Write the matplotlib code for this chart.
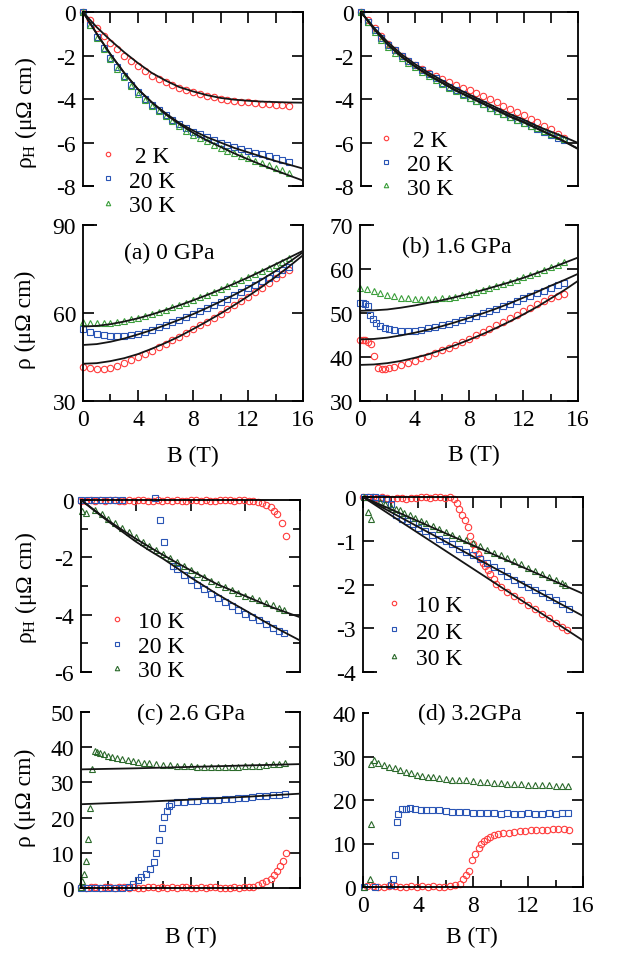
import numpy as np
import matplotlib
matplotlib.use('Agg')
import matplotlib.pyplot as plt
from matplotlib.patches import Rectangle
from matplotlib.ticker import MultipleLocator

plt.rcParams['font.family'] = ['Liberation Serif', 'DejaVu Serif']
plt.rcParams['mathtext.fontset'] = 'custom'
plt.rcParams['mathtext.rm'] = 'Liberation Serif'
plt.rcParams['mathtext.it'] = 'Liberation Serif:italic'
plt.rcParams['axes.unicode_minus'] = False
FS = 17

# ---------------- data ----------------
fit_B = [0, 1, 2, 3, 4, 5, 6, 7, 8, 9, 10, 11, 12, 13, 14, 15, 16]
half_B = [0.0, 0.5, 1.0, 1.5, 2.0, 2.5, 3.0, 3.5, 4.0, 4.5, 5.0, 5.5, 6.0, 6.5, 7.0, 7.5,
          8.0, 8.5, 9.0, 9.5, 10.0, 10.5, 11.0, 11.5, 12.0, 12.5, 13.0, 13.5, 14.0, 14.5, 15.0]

# (a) 0 GPa, Hall
a_hall_2K = [0, -0.38, -0.75, -1.1, -1.42, -1.72, -2.0, -2.26, -2.5, -2.72, -2.92, -3.08, -3.22, -3.36,
             -3.48, -3.6, -3.7, -3.78, -3.86, -3.93, -4.0, -4.05, -4.1, -4.13, -4.16, -4.19, -4.21,
             -4.24, -4.26, -4.28, -4.3]
a_hall_20K = [0, -0.6, -1.15, -1.65, -2.1, -2.55, -2.95, -3.35, -3.7, -4.0, -4.28, -4.52, -4.75, -4.96,
              -5.15, -5.33, -5.5, -5.63, -5.76, -5.88, -6.0, -6.1, -6.2, -6.29, -6.38, -6.47, -6.55,
              -6.64, -6.72, -6.8, -6.88]
a_hall_30K = [0, -0.62, -1.2, -1.7, -2.15, -2.6, -3.0, -3.4, -3.75, -4.05, -4.32, -4.57, -4.8, -5.03,
              -5.25, -5.45, -5.65, -5.8, -5.95, -6.1, -6.25, -6.38, -6.5, -6.62, -6.73, -6.84, -6.95,
              -7.05, -7.15, -7.27, -7.4]
a_hall_fit_2K = [0, -0.7, -1.3, -1.85, -2.35, -2.8, -3.15, -3.45, -3.65, -3.82, -3.95, -4.03, -4.08,
                 -4.12, -4.14, -4.16, -4.17]
a_hall_fit_20K = [0, -1.0, -1.95, -2.8, -3.55, -4.15, -4.65, -5.1, -5.45, -5.75, -6.0, -6.25, -6.45,
                  -6.65, -6.85, -7.02, -7.2]
a_hall_fit_30K = [0, -1.0, -1.95, -2.8, -3.55, -4.15, -4.7, -5.15, -5.55, -5.9, -6.2, -6.5, -6.77,
                  -7.03, -7.28, -7.52, -7.75]

# (a) 0 GPa, resistivity
a_rho_2K = [41.5, 41.2, 40.9, 40.9, 41.4, 42.1, 43.0, 43.9, 44.9, 46.0, 47.2, 48.4, 49.5, 50.7, 51.9,
            53.2, 54.5, 55.8, 57.1, 58.4, 59.8, 61.2, 62.6, 64.1, 65.6, 67.1, 68.6, 70.2, 71.8, 73.3, 74.6]
a_rho_20K = [54.5, 53.6, 53.0, 52.6, 52.3, 52.2, 52.3, 52.6, 53.0, 53.6, 54.3, 55.1, 55.9, 56.8, 57.7,
             58.6, 59.6, 60.6, 61.6, 62.7, 63.8, 64.9, 66.0, 67.2, 68.4, 69.6, 70.8, 72.0, 73.3, 74.5, 75.6]
a_rho_30K = [56.8, 56.6, 56.5, 56.5, 56.7, 57.0, 57.4, 57.9, 58.4, 59.0, 59.7, 60.4, 61.1, 61.9, 62.7,
             63.5, 64.4, 65.3, 66.2, 67.1, 68.1, 69.1, 70.1, 71.1, 72.2, 73.2, 74.3, 75.4, 76.5, 77.5, 78.6]
a_rho_fit_2K = [42.7, 42.9, 43.6, 44.6, 46.0, 47.8, 49.8, 52.0, 54.5, 57.1, 59.8, 62.7, 65.7, 68.9,
                72.3, 75.9, 79.7]
a_rho_fit_20K = [49.1, 49.4, 50.2, 51.3, 52.7, 54.2, 55.9, 57.7, 59.6, 61.7, 63.9, 66.2, 68.7, 71.4,
                 74.3, 77.4, 80.7]
a_rho_fit_30K = [55.4, 55.6, 56.2, 57.1, 58.2, 59.5, 61.0, 62.6, 64.3, 66.1, 68.0, 70.0, 72.1, 74.3,
                 76.6, 78.9, 81.2]

# (b) 1.6 GPa, Hall
b_hall_2K = [0, -0.38, -0.75, -1.1, -1.45, -1.73, -2.0, -2.23, -2.45, -2.63, -2.8, -2.95, -3.1, -3.22,
             -3.35, -3.48, -3.6, -3.72, -3.85, -4.0, -4.15, -4.3, -4.45, -4.6, -4.75, -4.9, -5.05,
             -5.22, -5.4, -5.6, -5.8]
b_hall_20K = [0, -0.45, -0.85, -1.2, -1.5, -1.77, -2.0, -2.23, -2.45, -2.65, -2.85, -3.05, -3.25, -3.43,
              -3.6, -3.78, -3.95, -4.1, -4.25, -4.4, -4.55, -4.7, -4.85, -4.98, -5.1, -5.25, -5.4,
              -5.52, -5.65, -5.78, -5.9]
b_hall_30K = [0, -0.48, -0.9, -1.27, -1.6, -1.87, -2.1, -2.33, -2.55, -2.75, -2.95, -3.13, -3.3, -3.48,
              -3.65, -3.8, -3.95, -4.1, -4.25, -4.4, -4.55, -4.7, -4.85, -4.98, -5.1, -5.22, -5.35,
              -5.47, -5.6, -5.72, -5.85]
b_hall_fit_2K = [0, -0.75, -1.4, -1.95, -2.4, -2.8, -3.15, -3.5, -3.8, -4.1, -4.4, -4.7, -4.95, -5.25,
                 -5.5, -5.75, -6.02]
b_hall_fit_20K = [0, -0.8, -1.5, -2.05, -2.5, -2.9, -3.25, -3.6, -3.9, -4.2, -4.5, -4.8, -5.05, -5.35,
                  -5.65, -5.95, -6.28]
b_hall_fit_30K = [0, -0.82, -1.52, -2.07, -2.52, -2.92, -3.27, -3.62, -3.92, -4.22, -4.52, -4.82,
                  -5.08, -5.37, -5.66, -5.96, -6.3]

# (b) 1.6 GPa, resistivity
b_rho_2K_B = [0.0, 0.2, 0.4, 0.6, 0.8, 1.05, 1.35, 1.6, 1.85, 2.1, 2.5, 3.0, 3.5, 4.0, 4.5, 5.0, 5.5,
              6.0, 6.5, 7.0, 7.5, 8.0, 8.5, 9.0, 9.5, 10.0, 10.5, 11.0, 11.5, 12.0, 12.5, 13.0, 13.5,
              14.0, 14.5, 15.0]
b_rho_2K = [43.9, 43.9, 43.8, 43.5, 42.9, 40.2, 37.4, 37.3, 37.3, 37.5, 37.8, 38.2, 38.7, 39.2, 39.7,
            40.3, 40.9, 41.5, 42.1, 42.8, 43.5, 44.2, 44.9, 45.7, 46.4, 47.2, 48.0, 48.8, 49.6, 50.4,
            51.2, 52.0, 52.7, 53.4, 53.9, 54.3]
b_rho_20K_B = [0.0, 0.2, 0.4, 0.6, 0.75, 0.95, 1.2, 1.5, 1.8, 2.1, 2.5, 3.0, 3.5, 4.0, 4.5, 5.0, 5.5,
               6.0, 6.5, 7.0, 7.5, 8.0, 8.5, 9.0, 9.5, 10.0, 10.5, 11.0, 11.5, 12.0, 12.5, 13.0, 13.5,
               14.0, 14.5, 15.0]
b_rho_20K = [52.2, 52.3, 52.1, 51.5, 49.6, 48.6, 47.7, 47.0, 46.6, 46.3, 46.1, 45.9, 45.9, 46.0, 46.2,
             46.5, 46.8, 47.2, 47.6, 48.0, 48.5, 48.9, 49.4, 49.9, 50.4, 51.0, 51.5, 52.1, 52.7, 53.3,
             53.9, 54.5, 55.1, 55.7, 56.3, 56.8]
b_rho_30K = [55.7, 55.5, 55.1, 54.6, 54.2, 53.8, 53.5, 53.3, 53.2, 53.1, 53.1, 53.2, 53.3, 53.5, 53.7,
             54.0, 54.4, 54.8, 55.2, 55.6, 56.1, 56.6, 57.1, 57.6, 58.1, 58.6, 59.2, 59.8, 60.4, 61.0, 61.6]
b_rho_fit_2K = [38.2, 38.3, 38.6, 39.1, 39.8, 40.6, 41.6, 42.7, 43.9, 45.2, 46.6, 48.1, 49.7, 51.4,
                53.3, 55.2, 57.3]
b_rho_fit_20K = [44.0, 44.1, 44.4, 44.9, 45.5, 46.2, 47.0, 47.9, 48.9, 49.9, 51.0, 52.2, 53.5, 54.8,
                 56.2, 57.5, 58.9]
b_rho_fit_30K = [50.5, 50.6, 50.8, 51.2, 51.7, 52.3, 52.9, 53.6, 54.4, 55.2, 56.1, 57.0, 58.0, 59.1,
                 60.2, 61.4, 62.6]

# (c) 2.6 GPa, Hall
c_hall_10K_B = [0.0, 0.35, 0.7, 1.05, 1.4, 1.75, 2.1, 2.45, 2.8, 3.15, 3.5, 3.85, 4.2, 4.55, 4.9, 5.25,
                5.6, 5.95, 6.3, 6.65, 7.0, 7.35, 7.7, 8.05, 8.4, 8.75, 9.1, 9.45, 9.8, 10.15, 10.5,
                10.85, 11.2, 11.55, 11.9, 12.25, 12.6, 12.95, 13.25, 13.55, 13.85, 14.1, 14.35, 14.65,
                14.95]
c_hall_10K = [-0.03, -0.02, 0.0, -0.02, -0.01, -0.03, -0.01, 0.0, -0.02, -0.03, -0.01, -0.02, 0.0,
              -0.01, -0.02, -0.03, -0.01, -0.02, 0.0, -0.02, -0.01, -0.03, -0.02, -0.01, 0.0, -0.02,
              -0.01, -0.02, -0.03, -0.01, 0.0, -0.01, -0.02, -0.01, 0.0, -0.02, -0.03, -0.06, -0.1,
              -0.16, -0.26, -0.38, -0.48, -0.79, -1.27]
c_hall_20K_B = [0.0, 0.5, 1.0, 1.5, 2.0, 2.5, 3.0, 5.4, 5.75, 6.1, 6.75, 7.0, 7.5, 8.0, 8.5, 9.0, 9.5,
                10.0, 10.5, 11.0, 11.5, 12.0, 12.5, 13.0, 13.5, 14.0, 14.5, 14.8]
c_hall_20K = [0.0, 0.0, 0.01, 0.0, 0.01, 0.0, 0.0, 0.08, -0.7, -1.45, -2.3, -2.42, -2.62, -2.8, -2.97,
              -3.12, -3.27, -3.42, -3.56, -3.7, -3.83, -3.96, -4.08, -4.2, -4.32, -4.45, -4.57, -4.63]
c_hall_30K_B = [0.05, 0.4, 1.0, 1.5, 2.0, 2.5, 3.0, 3.5, 4.0, 4.5, 5.0, 5.5, 6.0, 6.5, 7.0, 7.5, 8.0,
                8.5, 9.0, 9.5, 10.0, 10.5, 11.0, 11.5, 12.0, 12.5, 13.0, 13.5, 14.0, 14.5, 14.8]
c_hall_30K = [-0.38, -0.44, -0.35, -0.5, -0.66, -0.8, -0.97, -1.13, -1.28, -1.45, -1.6, -1.76, -1.9,
              -2.03, -2.17, -2.31, -2.45, -2.58, -2.7, -2.82, -2.94, -3.05, -3.14, -3.24, -3.34, -3.42,
              -3.5, -3.6, -3.68, -3.77, -3.82]
c_hall_fit_20K = [0, -0.38, -0.75, -1.1, -1.45, -1.76, -2.05, -2.37, -2.7, -3.0, -3.3, -3.58, -3.85,
                  -4.13, -4.4, -4.65, -4.9]
c_hall_fit_30K = [0, -0.36, -0.72, -1.04, -1.35, -1.64, -1.92, -2.19, -2.45, -2.7, -2.95, -3.15,
                  -3.35, -3.55, -3.75, -3.92, -4.09]

# (c) 2.6 GPa, resistivity
c_rho_10K_B = [0.0, 0.35, 0.7, 1.05, 1.4, 1.75, 2.1, 2.45, 2.8, 3.15, 3.5, 3.85, 4.2, 4.55, 4.9, 5.25,
               5.6, 5.95, 6.3, 6.65, 7.0, 7.35, 7.7, 8.05, 8.4, 8.75, 9.1, 9.45, 9.8, 10.15, 10.5,
               10.85, 11.2, 11.55, 11.9, 12.25, 12.6, 12.95, 13.25, 13.55, 13.85, 14.1, 14.35, 14.55,
               14.75, 14.95]
c_rho_10K = [0.2, 0.1, 0.3, 0.2, 0.1, 0.3, 0.2, 0.0, 0.2, 0.3, 0.1, 0.2, 0.0, 0.1, 0.2, 0.3, 0.1, 0.2,
             0.0, 0.2, 0.1, 0.3, 0.2, 0.1, 0.0, 0.2, 0.1, 0.2, 0.3, 0.1, 0.0, 0.1, 0.2, 0.1, 0.2, 0.3,
             0.4, 0.8, 1.3, 1.9, 2.6, 3.6, 4.9, 6.3, 7.8, 9.9]
c_rho_20K_B = [0.0, 0.5, 1.0, 1.5, 2.0, 2.5, 3.0, 3.5, 3.8, 4.2, 4.4, 4.75, 5.05, 5.3, 5.5, 5.7, 5.9,
               6.1, 6.25, 6.4, 6.6, 7.0, 7.5, 8.0, 8.5, 9.0, 9.5, 10.0, 10.5, 11.0, 11.5, 12.0, 12.5,
               13.0, 13.5, 14.0, 14.5, 14.9]
c_rho_20K = [0.1, 0.0, 0.1, 0.0, 0.1, 0.0, 0.1, 0.3, 1.2, 2.2, 3.1, 4.1, 5.3, 7.4, 10.0, 13.5, 17.0,
             20.1, 22.0, 23.2, 23.9, 24.3, 24.4, 24.6, 24.7, 24.9, 25.0, 25.1, 25.3, 25.4, 25.6, 25.7,
             25.9, 26.0, 26.2, 26.3, 26.5, 26.6]
c_rho_30K_B = [0.0, 0.1, 0.2, 0.35, 0.5, 0.65, 0.8, 1.0, 1.2, 1.4, 1.7, 2.0, 2.3, 2.6, 3.0, 3.4, 3.8,
               4.2, 4.6, 5.0, 5.5, 6.0, 6.5, 7.0, 7.5, 8.0, 8.5, 9.0, 9.5, 10.0, 10.5, 11.0, 11.5, 12.0,
               12.5, 13.0, 13.5, 14.0, 14.5, 14.9]
c_rho_30K = [0.3, 1.9, 4.1, 7.6, 14.0, 22.8, 33.8, 39.0, 38.7, 38.4, 38.0, 37.6, 37.2, 36.9, 36.6,
             36.3, 36.0, 35.8, 35.6, 35.4, 35.2, 35.0, 34.9, 34.8, 34.7, 34.6, 34.5, 34.5, 34.4, 34.4,
             34.4, 34.5, 34.5, 34.6, 34.7, 34.8, 34.9, 35.1, 35.3, 35.4]
c_rho_fit_B = [0, 4, 8, 12, 16]
c_rho_fit_20K = [23.8, 24.4, 25.1, 25.9, 26.8]
c_rho_fit_30K = [33.7, 34.0, 34.4, 34.8, 35.2]

# (d) 3.2 GPa, Hall
d_hall_10K_B = [0.0, 0.35, 0.7, 1.05, 1.4, 1.75, 2.1, 2.45, 2.8, 3.15, 3.5, 3.85, 4.2, 4.55, 4.9, 5.25,
                5.6, 5.95, 6.3, 6.6, 6.8, 7.0, 7.2, 7.4, 7.6, 7.8, 8.0, 8.15, 8.35, 8.5, 8.7, 8.9, 9.1,
                9.25, 9.5, 9.7, 10.0, 10.5, 11.0, 11.5, 12.0, 12.5, 13.0, 13.5, 14.0, 14.5, 14.85]
d_hall_10K = [0.0, 0.0, -0.01, -0.03, -0.01, -0.02, -0.04, -0.02, -0.03, -0.05, -0.02, -0.03, -0.01,
              0.0, -0.02, -0.01, 0.0, -0.02, -0.01, -0.04, -0.13, -0.27, -0.4, -0.53, -0.68, -0.9,
              -1.08, -1.2, -1.3, -1.4, -1.5, -1.58, -1.67, -1.75, -1.88, -1.98, -2.05, -2.16, -2.26,
              -2.36, -2.46, -2.57, -2.67, -2.77, -2.87, -2.97, -3.04]
d_hall_20K_B = [0.1, 0.5, 0.9, 1.3, 1.7, 2.05, 2.4, 2.8, 3.2, 3.6, 4.0, 4.5, 5.0, 5.5, 6.0, 6.5, 7.0,
                7.5, 8.0, 8.5, 9.0, 9.5, 10.0, 10.5, 11.0, 11.5, 12.0, 12.5, 13.0, 13.5, 14.0, 14.5, 15.0]
d_hall_20K = [0.0, 0.0, 0.0, -0.02, -0.04, -0.15, -0.42, -0.5, -0.55, -0.62, -0.7, -0.78, -0.87, -0.95,
              -1.0, -1.08, -1.18, -1.25, -1.32, -1.42, -1.5, -1.6, -1.7, -1.8, -1.9, -1.98, -2.05,
              -2.12, -2.2, -2.28, -2.36, -2.45, -2.55]
d_hall_30K_B = [0.05, 0.35, 0.6, 1.2, 1.6, 2.0, 2.4, 2.7, 3.0, 3.4, 3.8, 4.2, 4.6, 5.1, 5.5, 6.0, 6.5,
                7.0, 7.5, 8.0, 8.5, 9.0, 9.5, 10.0, 10.5, 11.0, 11.5, 12.0, 12.5, 13.0, 13.5, 14.0,
                14.5, 14.7]
d_hall_30K = [0.0, -0.34, -0.5, -0.11, -0.17, -0.22, -0.28, -0.3, -0.36, -0.42, -0.48, -0.55, -0.6,
              -0.66, -0.72, -0.79, -0.86, -0.93, -0.99, -1.06, -1.13, -1.2, -1.27, -1.33, -1.4, -1.47,
              -1.54, -1.62, -1.69, -1.76, -1.83, -1.9, -1.97, -2.02]
d_hall_fit_B = [0, 16]
d_hall_fit_10K = [0, -3.28]
d_hall_fit_20K = [0, -2.72]
d_hall_fit_30K = [0, -2.21]

# (d) 3.2 GPa, resistivity
d_rho_10K_B = [0.3, 0.7, 1.1, 1.5, 1.9, 2.3, 2.7, 3.1, 3.5, 3.9, 4.3, 4.7, 5.1, 5.5, 5.9, 6.3, 6.7,
               7.05, 7.3, 7.5, 7.7, 7.9, 8.15, 8.4, 8.6, 8.8, 9.0, 9.25, 9.5, 9.8, 10.2, 10.6, 11.0,
               11.4, 11.8, 12.2, 12.6, 13.0, 13.4, 13.8, 14.2, 14.6, 15.0]
d_rho_10K = [0.3, 0.2, 0.0, 0.1, 0.3, 0.2, 0.1, 0.0, 0.2, 0.1, 0.3, 0.0, 0.2, 0.1, 0.0, 0.2, 0.4, 0.8,
             1.9, 2.7, 3.6, 6.1, 7.6, 9.0, 9.9, 10.5, 11.1, 11.5, 11.9, 12.1, 12.3, 12.5, 12.7, 12.8,
             12.9, 13.0, 13.1, 13.1, 13.2, 13.3, 13.3, 13.3, 13.2]
d_rho_20K_B = [0.1, 0.85, 2.05, 2.2, 2.35, 2.45, 2.55, 2.8, 3.1, 3.4, 3.8, 4.2, 4.6, 5.0, 5.5, 6.0, 6.5,
               7.0, 7.5, 8.0, 8.5, 9.0, 9.5, 10.0, 10.5, 11.0, 11.5, 12.0, 12.5, 13.0, 13.5, 14.0,
               14.5, 14.9]
d_rho_20K = [0.0, 0.0, 0.5, 1.9, 7.4, 14.9, 16.8, 17.9, 18.0, 18.1, 17.9, 17.8, 17.8, 17.7, 17.6, 17.5,
             17.3, 17.2, 17.2, 17.1, 17.0, 16.9, 16.9, 16.8, 16.9, 16.8, 16.8, 16.9, 16.8, 16.8, 16.9,
             16.8, 16.9, 17.0]
d_rho_30K_B = [0.05, 0.5, 0.55, 0.6, 0.8, 1.1, 1.5, 1.9, 2.3, 2.7, 3.1, 3.5, 3.9, 4.3, 4.7, 5.1, 5.5,
               6.0, 6.5, 7.0, 7.5, 8.0, 8.5, 9.0, 9.5, 10.0, 10.5, 11.0, 11.5, 12.0, 12.5, 13.0, 13.5,
               14.0, 14.5, 14.9]
d_rho_30K = [0.0, 1.9, 14.5, 28.3, 29.1, 28.6, 28.1, 27.7, 27.3, 26.8, 26.5, 26.1, 25.8, 25.6, 25.4,
             25.3, 25.1, 24.9, 24.7, 24.6, 24.5, 24.3, 24.2, 24.1, 23.9, 23.8, 23.7, 23.7, 23.6, 23.5,
             23.5, 23.4, 23.4, 23.3, 23.3, 23.2]

labels_ab = [' 2 K', '20 K', '30 K']
labels_cd = ['10 K', '20 K', '30 K']

# ---------------- styling ----------------
RED = '#ff3b3b'
BLUE = '#2a55b5'
GREEN_L = '#3a9e3a'
GREEN_D = '#2b6a2b'
LINE = '#151515'

W, H = 618, 954
fig = plt.figure(figsize=(W / 100, H / 100), dpi=100)


def add_axes(l, r, t, b):
    return fig.add_axes([l / W, 1 - b / H, (r - l) / W, (b - t) / H])


def data(ax, B, V, marker, color, ms=4.6):
    return ax.plot(B, V, ls='none', marker=marker, mfc='none', mec=color, ms=ms, mew=0.8,
                   zorder=2, clip_on=False)[0]


def fit(ax, B, V):
    ax.plot(B, V, color=LINE, lw=1.3, zorder=3)


def style(ax, ylim, ymaj, ymin=None, upper=True, xmaj=2, xmin=None, xlabels=False):
    ax.set_xlim(0, 16)
    ax.set_ylim(*ylim)
    ax.xaxis.set_major_locator(MultipleLocator(xmaj))
    if xmin:
        ax.xaxis.set_minor_locator(MultipleLocator(xmin))
    ax.yaxis.set_major_locator(MultipleLocator(ymaj))
    if ymin:
        ax.yaxis.set_minor_locator(MultipleLocator(ymin))
    ax.tick_params(which='both', direction='in', top=upper, bottom=not upper, left=True,
                   right=True, labelbottom=xlabels, labelsize=FS, width=1.2)
    ax.tick_params(which='major', length=8)
    ax.tick_params(which='minor', length=5)
    ax.tick_params(axis='y', pad=5)
    ax.tick_params(axis='x', pad=6)
    for s in ax.spines.values():
        s.set_linewidth(1.3)


def band(ax, x0, x1, upper):
    # white band hiding the middle of the edge shared with the neighbouring panel
    y0 = -0.045 if upper else 0.955
    ax.add_patch(Rectangle((x0, y0), x1 - x0, 0.09, transform=ax.transAxes, fc='white',
                           ec='none', clip_on=False, zorder=2.6))


def legend(ax, handles, labels, x, y, spacing):
    ax.legend(handles, labels, loc='center left', bbox_to_anchor=(x, y), frameon=False,
              fontsize=FS, handlelength=0.8, handletextpad=0.5, labelspacing=spacing,
              borderpad=0, borderaxespad=0, markerscale=0.7, numpoints=1)


# ----- (a) -----
ax = add_axes(83, 303, 13, 187)
h1 = data(ax, half_B, a_hall_2K, 'o', RED)
h2 = data(ax, half_B, a_hall_20K, 's', BLUE, 4.2)
h3 = data(ax, half_B, a_hall_30K, '^', GREEN_L)
for v in (a_hall_fit_2K, a_hall_fit_20K, a_hall_fit_30K):
    fit(ax, fit_B, v)
style(ax, (-8, 0), 2)
band(ax, 0.05, 0.93, True)
legend(ax, [h1, h2, h3], labels_ab, 0.07, 0.03, 0.13)

ax = add_axes(83, 303, 226, 402)
data(ax, half_B, a_rho_2K, 'o', RED)
data(ax, half_B, a_rho_20K, 's', BLUE, 4.2)
data(ax, half_B, a_rho_30K, '^', GREEN_L)
for v in (a_rho_fit_2K, a_rho_fit_20K, a_rho_fit_30K):
    fit(ax, fit_B, v)
style(ax, (30, 90), 30, upper=False, xmaj=4, xmin=2, xlabels=True)
band(ax, 0.065, 0.94, False)
ax.text(0.39, 0.845, '(a) 0 GPa', transform=ax.transAxes, ha='center', va='center', fontsize=FS)

# ----- (b) -----
ax = add_axes(361, 578, 13, 187)
h1 = data(ax, half_B, b_hall_2K, 'o', RED)
h2 = data(ax, half_B, b_hall_20K, 's', BLUE, 4.2)
h3 = data(ax, half_B, b_hall_30K, '^', GREEN_L)
for v in (b_hall_fit_2K, b_hall_fit_20K, b_hall_fit_30K):
    fit(ax, fit_B, v)
style(ax, (-8, 0), 2)
band(ax, 0.05, 0.95, True)
legend(ax, [h1, h2, h3], labels_ab, 0.07, 0.126, 0.1)

ax = add_axes(360, 578, 226, 402)
data(ax, b_rho_2K_B, b_rho_2K, 'o', RED)
data(ax, b_rho_20K_B, b_rho_20K, 's', BLUE, 4.2)
data(ax, half_B, b_rho_30K, '^', GREEN_L)
for v in (b_rho_fit_2K, b_rho_fit_20K, b_rho_fit_30K):
    fit(ax, fit_B, v)
style(ax, (30, 70), 10, upper=False, xmaj=4, xmin=2, xlabels=True)
band(ax, 0.065, 0.94, False)
ax.text(0.445, 0.88, '(b) 1.6 GPa', transform=ax.transAxes, ha='center', va='center', fontsize=FS)

# ----- (c) -----
ax = add_axes(81, 300, 501, 673)
h1 = data(ax, c_hall_10K_B, c_hall_10K, 'o', RED)
h2 = data(ax, c_hall_20K_B, c_hall_20K, 's', BLUE, 4.2)
h3 = data(ax, c_hall_30K_B, c_hall_30K, '^', GREEN_D)
fit(ax, fit_B, c_hall_fit_20K)
fit(ax, fit_B, c_hall_fit_30K)
style(ax, (-6, 0), 2, ymin=1, xmaj=4)
band(ax, 0.05, 0.935, True)
legend(ax, [h1, h2, h3], labels_cd, 0.12, 0.151, 0.13)

ax = add_axes(81, 300, 713, 889)
data(ax, c_rho_10K_B, c_rho_10K, 'o', RED)
data(ax, c_rho_20K_B, c_rho_20K, 's', BLUE, 4.2)
data(ax, c_rho_30K_B, c_rho_30K, '^', GREEN_D)
fit(ax, c_rho_fit_B, c_rho_fit_20K)
fit(ax, c_rho_fit_B, c_rho_fit_30K)
style(ax, (0, 50), 10, upper=False, xmaj=4, xmin=2, xlabels=False)
band(ax, 0.04, 0.93, False)
ax.text(0.502, 0.99, '(c) 2.6 GPa', transform=ax.transAxes, ha='center', va='center', fontsize=FS,
        zorder=4)

# ----- (d) -----
ax = add_axes(363, 583, 498, 673)
h1 = data(ax, d_hall_10K_B, d_hall_10K, 'o', RED)
h2 = data(ax, d_hall_20K_B, d_hall_20K, 's', BLUE, 4.2)
h3 = data(ax, d_hall_30K_B, d_hall_30K, '^', GREEN_D)
for v in (d_hall_fit_10K, d_hall_fit_20K, d_hall_fit_30K):
    fit(ax, d_hall_fit_B, v)
style(ax, (-4, 0), 1)
band(ax, 0.065, 0.925, True)
legend(ax, [h1, h2, h3], labels_cd, 0.1, 0.229, 0.2)

ax = add_axes(363, 583, 714, 888)
data(ax, d_rho_10K_B, d_rho_10K, 'o', RED)
data(ax, d_rho_20K_B, d_rho_20K, 's', BLUE, 4.2)
data(ax, d_rho_30K_B, d_rho_30K, '^', GREEN_D)
style(ax, (0, 40), 10, upper=False, xmaj=4, xmin=2, xlabels=True)
band(ax, 0.025, 0.97, False)
ax.text(0.486, 1.0, '(d) 3.2GPa', transform=ax.transAxes, ha='center', va='center', fontsize=FS,
        zorder=4)

# ----- axis labels -----
rhoH = r'ρ$_\mathrm{H}$ (μΩ cm)'
rho = 'ρ (μΩ cm)'
fig.text(26 / W, 1 - 113 / H, rhoH, rotation=90, ha='center', va='center', fontsize=FS)
fig.text(25 / W, 1 - 320 / H, rho, rotation=90, ha='center', va='center', fontsize=FS)
fig.text(26 / W, 1 - 588 / H, rhoH, rotation=90, ha='center', va='center', fontsize=FS)
fig.text(25 / W, 1 - 798 / H, rho, rotation=90, ha='center', va='center', fontsize=FS)
for (x, y) in [(193, 456), (474, 455), (191, 937), (472, 937)]:
    fig.text(x / W, 1 - y / H, 'B (T)', ha='center', va='center', fontsize=FS)

fig.savefig('out.png', dpi=100)
